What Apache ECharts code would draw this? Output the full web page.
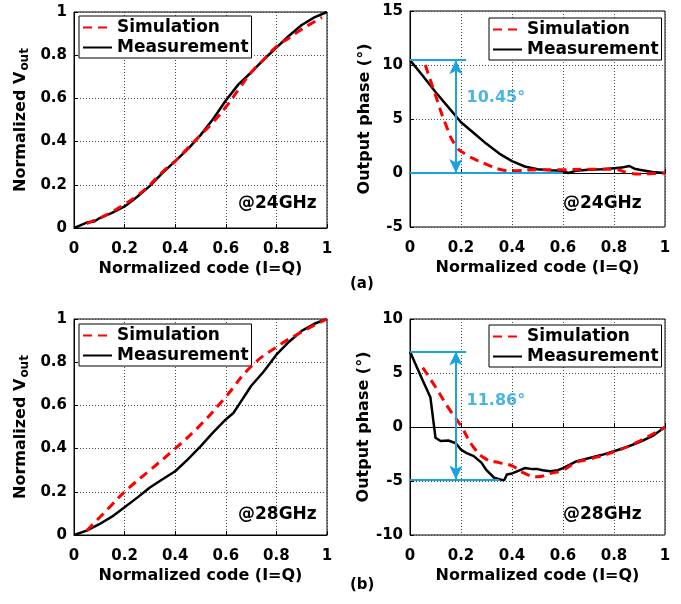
<!DOCTYPE html>
<html><head><meta charset="utf-8">
<script src="https://cdn.jsdelivr.net/npm/echarts@6/dist/echarts.min.js"></script>
<style>html,body{margin:0;padding:0;background:#fff}#c{width:681px;height:604px}</style>
</head><body><div id="c"></div>
<script>
// ---- (a) 24 GHz, normalized Vout ----
const aAmpSimX = [0.05,0.1,0.15,0.2,0.25,0.3,0.35,0.4,0.45,0.5,0.55,0.6,0.65,0.7,0.75,0.8,0.85,0.9,0.95,0.98];
const aAmpSimY = [0.02,0.045,0.075,0.11,0.15,0.2,0.26,0.31,0.37,0.43,0.49,0.56,0.64,0.72,0.78,0.84,0.88,0.92,0.955,0.975];
const aAmpMeasX = [0,0.02,0.05,0.08,0.1,0.15,0.2,0.25,0.3,0.35,0.4,0.45,0.5,0.55,0.6,0.65,0.7,0.75,0.8,0.85,0.9,0.95,1];
const aAmpMeasY = [0,0.01,0.025,0.03,0.045,0.07,0.1,0.145,0.195,0.255,0.31,0.365,0.43,0.505,0.59,0.665,0.72,0.78,0.835,0.89,0.94,0.975,1];
// ---- (a) 24 GHz, output phase ----
const aPhSimX = [0.06,0.1,0.14,0.18,0.22,0.26,0.3,0.35,0.4,0.5,0.6,0.7,0.8,0.85,0.9,0.95,1];
const aPhSimY = [10.0,7.2,4.5,2.5,1.7,1.2,0.8,0.35,0.2,0.3,0.3,0.35,0.35,0.05,-0.1,-0.05,0];
const aPhMeasX = [0,0.05,0.1,0.15,0.2,0.25,0.3,0.35,0.4,0.45,0.5,0.55,0.6,0.62,0.65,0.7,0.75,0.8,0.83,0.86,0.88,0.9,0.95,1];
const aPhMeasY = [10.45,9.0,7.5,6.1,4.7,3.7,2.7,1.8,1.1,0.6,0.35,0.25,0.2,0.0,0.2,0.3,0.35,0.45,0.5,0.65,0.4,0.3,0.1,0];
const aSwing = {top:10.45, bottom:0, arrowX:0.18, topEnd:0.22, bottomEnd:0.6, label:'10.45°', labelX:0.22, labelY:7.0};
// ---- (b) 28 GHz, normalized Vout ----
const bAmpSimX = [0.05,0.1,0.15,0.2,0.3,0.4,0.5,0.6,0.7,0.8,0.9,1];
const bAmpSimY = [0.02,0.08,0.14,0.2,0.3,0.4,0.51,0.64,0.78,0.87,0.94,1];
const bAmpMeasX = [0,0.05,0.1,0.15,0.2,0.25,0.3,0.35,0.4,0.45,0.5,0.55,0.6,0.63,0.65,0.7,0.75,0.8,0.85,0.9,0.95,1];
const bAmpMeasY = [0,0.02,0.05,0.085,0.128,0.173,0.22,0.258,0.295,0.35,0.41,0.475,0.535,0.565,0.6,0.69,0.757,0.835,0.895,0.945,0.978,1];
// ---- (b) 28 GHz, output phase ----
const bPhSimX = [0.05,0.1,0.15,0.2,0.25,0.3,0.35,0.4,0.45,0.5,0.55,0.6,0.65,0.7,0.8,0.9,1];
const bPhSimY = [5.5,3.7,1.8,0.1,-1.9,-3.0,-3.3,-3.6,-4.3,-4.6,-4.3,-4.0,-3.3,-3.0,-2.3,-1.3,0];
const bPhMeasX = [0,0.02,0.05,0.08,0.1,0.12,0.15,0.18,0.2,0.22,0.25,0.28,0.3,0.33,0.36,0.37,0.38,0.4,0.42,0.45,0.48,0.5,0.52,0.55,0.58,0.6,0.65,0.7,0.75,0.8,0.85,0.9,0.95,1];
const bPhMeasY = [7.0,5.9,4.3,2.75,-1.0,-1.3,-1.25,-1.5,-2.1,-2.4,-2.7,-3.3,-4.0,-4.7,-4.9,-4.9,-4.4,-4.3,-4.1,-3.8,-3.9,-3.9,-4.0,-4.1,-4.0,-3.8,-3.2,-2.9,-2.6,-2.25,-1.85,-1.4,-0.85,0];
const bSwing = {top:7.0, bottom:-4.86, arrowX:0.18, topEnd:0.22, bottomEnd:0.35, label:'11.86°', labelX:0.22, labelY:2.4};

const FONT = 'DejaVu Sans';
const BLUE = '#1aa3e0';
const zip = (xs, ys) => xs.map((x, i) => [x, ys[i]]);

const grids = [
  {left:74, top:12, width:253, height:216},
  {left:410, top:11, width:255, height:216},
  {left:74, top:319, width:253, height:216},
  {left:410, top:319, width:255, height:216}
];
const yCfg = [
  {min:0, max:1, interval:0.2, name:'{n|Normalized V}{s|out}'},
  {min:-5, max:15, interval:5, name:'Output phase (°)'},
  {min:0, max:1, interval:0.2, name:'{n|Normalized V}{s|out}'},
  {min:-10, max:10, interval:5, name:'Output phase (°)'}
];
const sets = [
  [aAmpSimX,aAmpSimY,aAmpMeasX,aAmpMeasY],
  [aPhSimX,aPhSimY,aPhMeasX,aPhMeasY],
  [bAmpSimX,bAmpSimY,bAmpMeasX,bAmpMeasY],
  [bPhSimX,bPhSimY,bPhMeasX,bPhMeasY]
];
const swings = [null, aSwing, null, bSwing];
const legendPos = [{left:79,top:16},{left:489,top:18},{left:79,top:324},{left:489,top:325}];

const xAxis = grids.map((g,i)=>({
  type:'value', gridIndex:i, min:0, max:1, interval:0.2,
  name:'Normalized code (I=Q)', nameLocation:'middle', nameGap:33,
  nameTextStyle:{fontFamily:FONT,fontWeight:'bold',fontSize:16,color:'#000'},
  axisLine:{show:true,lineStyle:{color:'#000',width:1}},
  axisTick:{show:true,inside:true,length:4,lineStyle:{color:'#000'}},
  axisLabel:{fontFamily:FONT,fontWeight:'bold',fontSize:15,color:'#000',margin:14},
  splitLine:{show:true,lineStyle:{color:'#444',type:[1,2],width:1}}
}));
const yAxis = yCfg.map((c,i)=>({
  type:'value', gridIndex:i, min:c.min, max:c.max, interval:c.interval,
  name:c.name, nameLocation:'middle', nameGap:i%2===0?43:37, nameRotate:90,
  nameTextStyle:{fontFamily:FONT,fontWeight:'bold',fontSize:16,color:'#000',
    rich:{n:{fontFamily:FONT,fontWeight:'bold',fontSize:16,color:'#000'},
          s:{fontFamily:FONT,fontWeight:'bold',fontSize:12,color:'#000',verticalAlign:'bottom',padding:[8,0,0,1]}}},
  axisLine:{show:true,lineStyle:{color:'#000',width:1}},
  axisTick:{show:true,inside:true,length:4,lineStyle:{color:'#000'}},
  axisLabel:{fontFamily:FONT,fontWeight:'bold',fontSize:15,color:'#000',margin:7},
  splitLine:{show:true,lineStyle:{color:'#444',type:[1,2],width:1}}
}));

const series = [];
sets.forEach((s,i)=>{
  series.push({name:'Measurement',type:'line',xAxisIndex:i,yAxisIndex:i,data:zip(s[2],s[3]),
    symbol:'none',smooth:false,lineStyle:{color:'#000',width:2.5},itemStyle:{color:'#000'},z:3});
  series.push({name:'Simulation',type:'line',xAxisIndex:i,yAxisIndex:i,data:zip(s[0],s[1]),
    symbol:'none',smooth:true,lineStyle:{color:'#ff0000',width:3,type:[9,6]},itemStyle:{color:'#ff0000'},z:4});
  const w = swings[i];
  if (w) {
    series.push({name:'swing'+i,type:'line',xAxisIndex:i,yAxisIndex:i,data:[],z:5,
      markLine:{silent:true,symbol:'none',animation:false,label:{show:false},
        lineStyle:{color:BLUE,width:2,type:'solid'},
        data:[
          [{coord:[0,w.top]},{coord:[w.topEnd,w.top]}],
          [{coord:[0,w.bottom]},{coord:[w.bottomEnd,w.bottom]}],
          [{coord:[w.arrowX,w.top],symbol:'arrow',symbolSize:[10,14]},{coord:[w.arrowX,w.bottom],symbol:'arrow',symbolSize:[10,14]}]
        ]}});
    series.push({name:'swingLabel'+i,type:'scatter',xAxisIndex:i,yAxisIndex:i,data:[[w.labelX,w.labelY]],
      symbolSize:1,itemStyle:{color:'rgba(0,0,0,0)'},silent:true,z:6,
      label:{show:true,position:'right',distance:0,formatter:w.label,
        fontFamily:FONT,fontWeight:'bold',fontSize:16,color:BLUE}});
  }
});

const legend = legendPos.map((p,i)=>({
  left:p.left, top:p.top, orient:'vertical', data:['Simulation','Measurement'],
  selectedMode:false, itemWidth:29, itemHeight:14, itemGap:3,
  itemStyle:{opacity:0},
  padding:[3,3,2,3], borderColor:'#000', borderWidth:1, borderRadius:0, backgroundColor:'#fff',
  textStyle:{fontFamily:FONT,fontWeight:'bold',fontSize:17,color:'#000'}
}));

const freqText = (txt, x, y) => ({type:'text',left:x,top:y,
  style:{text:txt,fontFamily:FONT,fontWeight:'bold',fontSize:17,fill:'#000'}});
const graphic = [
  freqText('@24GHz',238,195), freqText('@24GHz',563,195),
  freqText('@28GHz',238,506), freqText('@28GHz',563,506),
  {type:'text',left:350,top:277,style:{text:'(a)',fontFamily:FONT,fontWeight:'bold',fontSize:15,fill:'#000'}},
  {type:'text',left:350,top:578,style:{text:'(b)',fontFamily:FONT,fontWeight:'bold',fontSize:15,fill:'#000'}}
];

const chart = echarts.init(document.getElementById('c'),null,{renderer:'canvas'});
chart.setOption({
  animation:false, backgroundColor:'#fff',
  grid: grids.map(g=>Object.assign({show:true,borderColor:'#000',borderWidth:1,backgroundColor:'transparent'},g)),
  xAxis, yAxis, series, legend, graphic
});
</script></body></html>
